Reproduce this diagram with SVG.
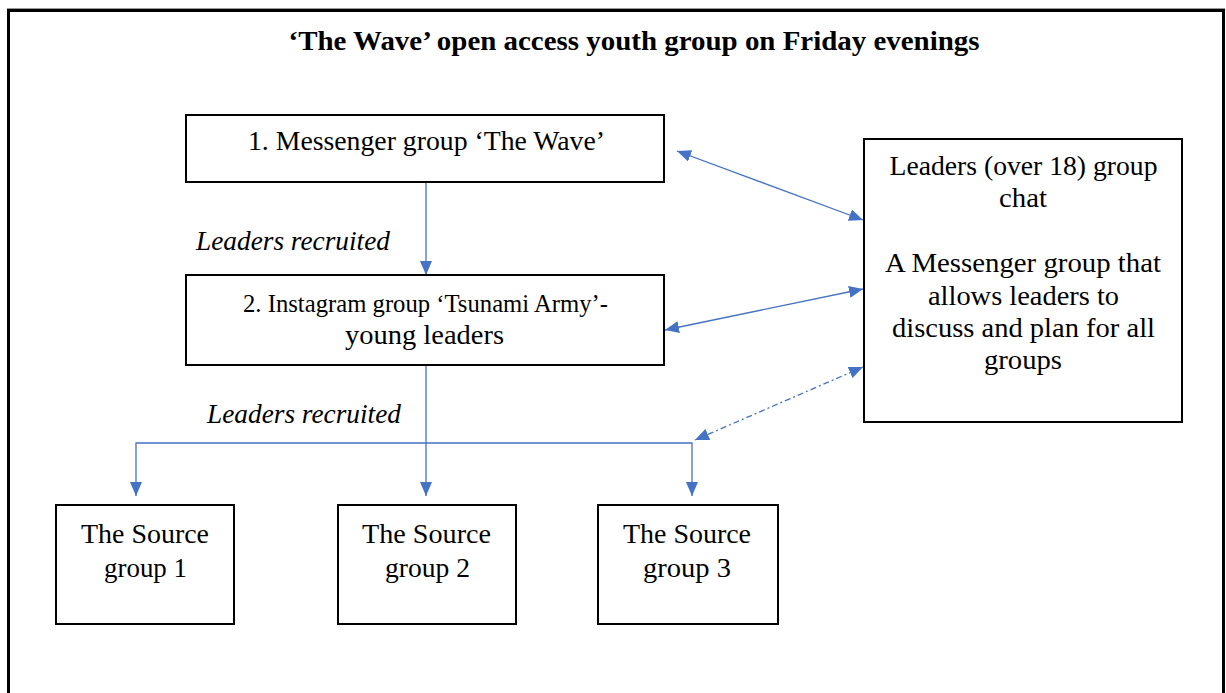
<svg xmlns="http://www.w3.org/2000/svg" width="1226" height="693" viewBox="0 0 1226 693">
<defs>
<style>
.box{fill:#fff;stroke:#000;stroke-width:2}
.t{font-family:"Liberation Serif","DejaVu Serif",serif;font-size:27px;fill:#000;text-anchor:middle}
.title{font-weight:bold;font-size:27px}
.it{font-style:italic;text-anchor:start}
.c{fill:none;stroke:#4472C4;stroke-width:1.3}
.dash{stroke-dasharray:6 3 2 3}
</style>
<marker id="ah" viewBox="0 0 14 12" refX="14" refY="6" markerWidth="14" markerHeight="12" markerUnits="userSpaceOnUse" orient="auto-start-reverse">
<path d="M0,0 L14,6 L0,12 Z" fill="#4472C4"/>
</marker>
</defs>
<rect x="0" y="0" width="1226" height="693" fill="#fff"/>
<g id="frame">
<path d="M8.5,700 V10.5 H1223.5 V700" fill="none" stroke="#999" stroke-width="3" transform="translate(0,-1)"/>
<path d="M8.5,700 V10.5 H1223.5 V700" fill="none" stroke="#000" stroke-width="3"/>
</g>
<g id="title">
<text class="t title" x="634" y="50" textLength="691" lengthAdjust="spacingAndGlyphs">‘The Wave’ open access youth group on Friday evenings</text>
</g>
<g id="connectors">
<line class="c" x1="426" y1="183" x2="426" y2="275" marker-end="url(#ah)"/>
<line class="c" x1="426" y1="366" x2="426" y2="496" marker-end="url(#ah)"/>
<polyline class="c" points="136,496 136,443 692,443 692,496" marker-start="url(#ah)" marker-end="url(#ah)"/>
<line class="c" x1="677" y1="151" x2="863" y2="220" marker-start="url(#ah)" marker-end="url(#ah)"/>
<line class="c" x1="665" y1="330" x2="863" y2="289" marker-start="url(#ah)" marker-end="url(#ah)"/>
<line class="c dash" x1="695" y1="440" x2="863" y2="367" marker-start="url(#ah)" marker-end="url(#ah)"/>
</g>
<g id="label-recruited-1">
<text class="t it" x="196" y="250" textLength="194" lengthAdjust="spacingAndGlyphs">Leaders recruited</text>
</g>
<g id="label-recruited-2">
<text class="t it" x="207" y="423" textLength="194" lengthAdjust="spacingAndGlyphs">Leaders recruited</text>
</g>
<g id="node-messenger">
<rect class="box" x="186" y="115" width="478" height="67"/>
<text class="t" x="426.5" y="150" textLength="357" lengthAdjust="spacingAndGlyphs">1. Messenger group ‘The Wave’</text>
</g>
<g id="node-instagram">
<rect class="box" x="186" y="275" width="478" height="90"/>
<text class="t" x="425.5" y="312" textLength="365" lengthAdjust="spacingAndGlyphs" style="font-size:25.5px">2. Instagram group ‘Tsunami Army’-</text>
<text class="t" x="424.5" y="344" textLength="159" lengthAdjust="spacingAndGlyphs">young leaders</text>
</g>
<g id="node-leaders">
<rect class="box" x="864" y="139" width="318" height="283"/>
<text class="t" x="1023.5" y="175" textLength="268" lengthAdjust="spacingAndGlyphs">Leaders (over 18) group</text>
<text class="t" x="1023" y="207" textLength="48" lengthAdjust="spacingAndGlyphs">chat</text>
<text class="t" x="1023" y="272" textLength="276" lengthAdjust="spacingAndGlyphs">A Messenger group that</text>
<text class="t" x="1023.5" y="305" textLength="191" lengthAdjust="spacingAndGlyphs">allows leaders to</text>
<text class="t" x="1023.5" y="337" textLength="263" lengthAdjust="spacingAndGlyphs">discuss and plan for all</text>
<text class="t" x="1023" y="369" textLength="78" lengthAdjust="spacingAndGlyphs">groups</text>
</g>
<g id="node-source-1">
<rect class="box" x="56" y="505" width="178" height="119"/>
<text class="t" x="145" y="543" textLength="128" lengthAdjust="spacingAndGlyphs">The Source</text>
<text class="t" x="145.5" y="577" textLength="83" lengthAdjust="spacingAndGlyphs">group 1</text>
</g>
<g id="node-source-2">
<rect class="box" x="338" y="505" width="178" height="119"/>
<text class="t" x="426.5" y="543" textLength="129" lengthAdjust="spacingAndGlyphs">The Source</text>
<text class="t" x="427.5" y="577" textLength="85" lengthAdjust="spacingAndGlyphs">group 2</text>
</g>
<g id="node-source-3">
<rect class="box" x="598" y="505" width="180" height="119"/>
<text class="t" x="687" y="543" textLength="128" lengthAdjust="spacingAndGlyphs">The Source</text>
<text class="t" x="687" y="577" textLength="88" lengthAdjust="spacingAndGlyphs">group 3</text>
</g>
</svg>
